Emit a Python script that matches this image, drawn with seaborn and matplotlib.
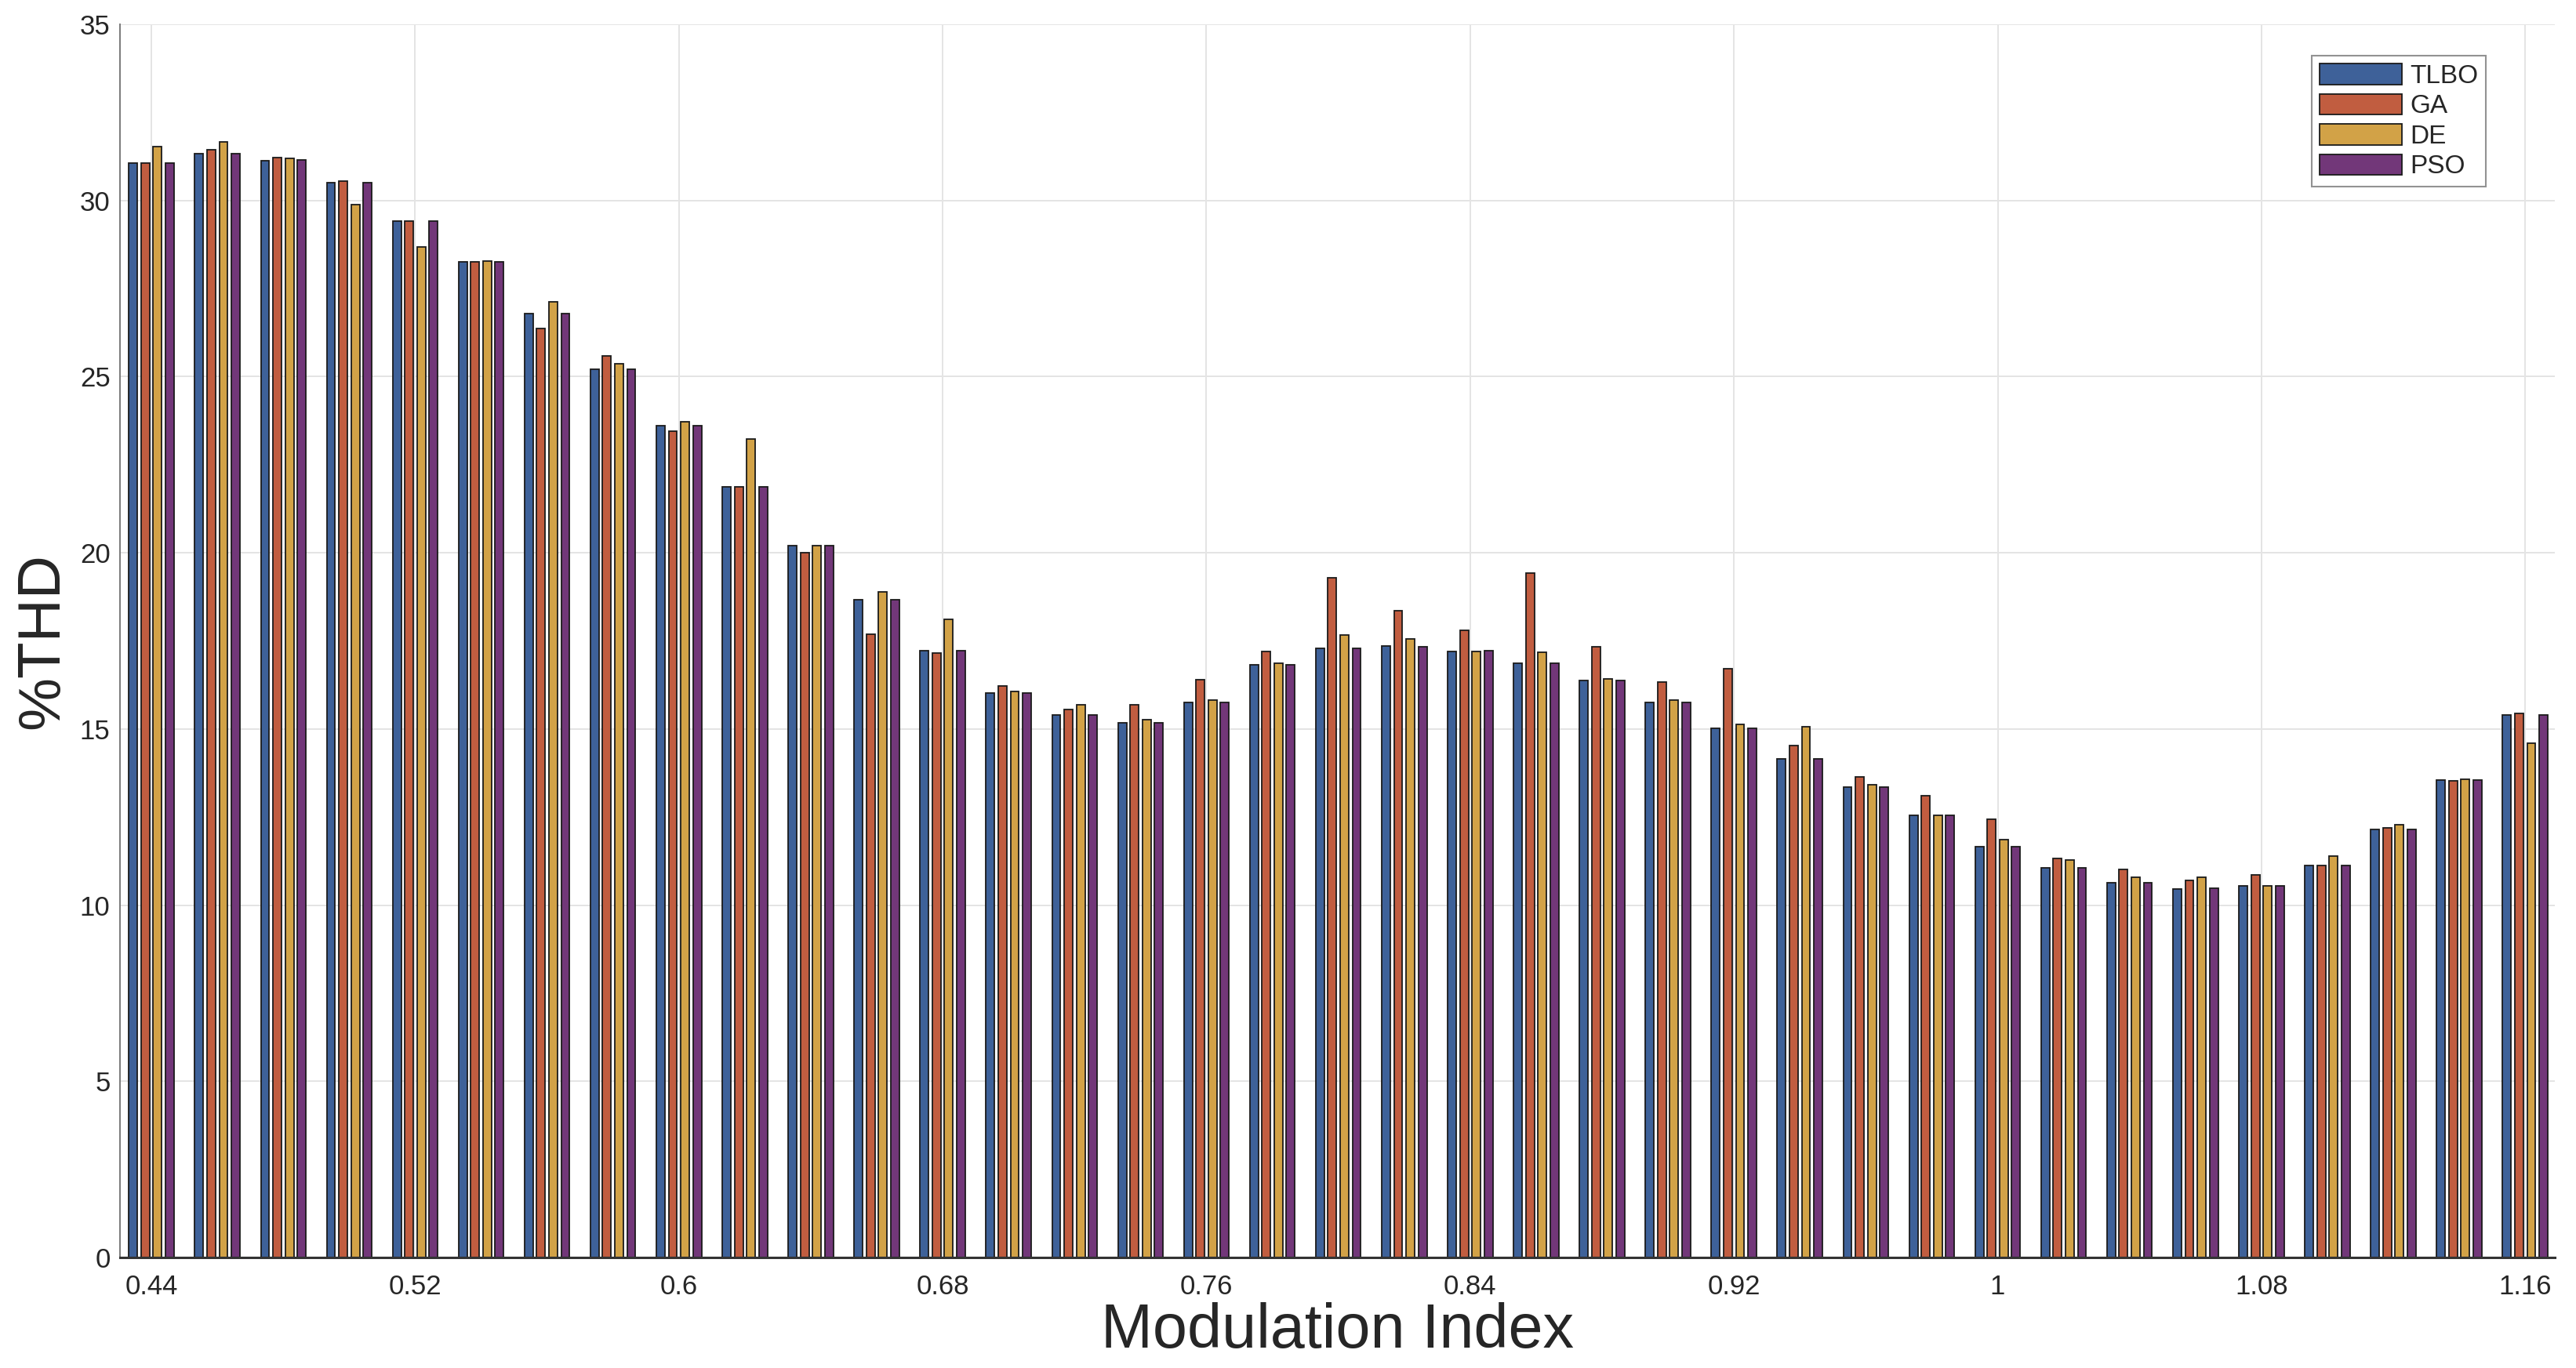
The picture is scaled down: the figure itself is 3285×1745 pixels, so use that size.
import matplotlib
matplotlib.use("Agg")
import matplotlib.pyplot as plt
import seaborn as sns
import pandas as pd


# ---------------------------------------------------------
# Data
# ---------------------------------------------------------

modulation_index = [
    0.44, 0.46, 0.48, 0.50, 0.52, 0.54, 0.56, 0.58, 0.60, 0.62,
    0.64, 0.66, 0.68, 0.70, 0.72, 0.74, 0.76, 0.78, 0.80, 0.82,
    0.84, 0.86, 0.88, 0.90, 0.92, 0.94, 0.96, 0.98, 1.00, 1.02,
    1.04, 1.06, 1.08, 1.10, 1.12, 1.14, 1.16,
]

thd_tlbo = [
    31.06, 31.34, 31.14, 30.51, 29.42, 28.25, 26.79, 25.21, 23.61, 21.87,
    20.21, 18.68, 17.22, 16.03, 15.39, 15.18, 15.76, 16.83, 17.28, 17.36,
    17.21, 16.87, 16.38, 15.75, 15.03, 14.15, 13.36, 12.54, 11.65, 11.06,
    10.64, 10.46, 10.54, 11.13, 12.15, 13.56, 15.39,
]

thd_ga = [
    31.06, 31.45, 31.22, 30.55, 29.42, 28.25, 26.37, 25.60, 23.46, 21.87,
    20.01, 17.70, 17.15, 16.23, 15.55, 15.69, 16.39, 17.19, 19.30, 18.35,
    17.79, 19.42, 17.34, 16.33, 16.71, 14.54, 13.65, 13.11, 12.44, 11.33,
    11.01, 10.70, 10.85, 11.13, 12.20, 13.53, 15.45,
]

thd_de = [
    31.54, 31.66, 31.20, 29.88, 28.69, 28.29, 27.12, 25.37, 23.72, 23.24,
    20.21, 18.89, 18.12, 16.06, 15.69, 15.27, 15.83, 16.87, 17.67, 17.55,
    17.21, 17.18, 16.42, 15.82, 15.12, 15.06, 13.41, 12.55, 11.87, 11.29,
    10.80, 10.79, 10.55, 11.40, 12.28, 13.57, 14.59,
]

thd_pso = [
    31.06, 31.34, 31.16, 30.51, 29.42, 28.25, 26.79, 25.21, 23.61, 21.87,
    20.21, 18.68, 17.22, 16.03, 15.39, 15.18, 15.76, 16.83, 17.28, 17.34,
    17.22, 16.87, 16.38, 15.75, 15.03, 14.15, 13.36, 12.55, 11.66, 11.06,
    10.64, 10.47, 10.54, 11.13, 12.15, 13.56, 15.39,
]

methods = ["TLBO", "GA", "DE", "PSO"]
colors = ["#2F5EA8", "#D6512A", "#E9A930", "#7A2C84"]

tick_labels = ["0.44", "0.52", "0.6", "0.68", "0.76",
               "0.84", "0.92", "1", "1.08", "1.16"]

y_ticks = [0, 5, 10, 15, 20, 25, 30, 35]


# ---------------------------------------------------------
# Long table for seaborn
# ---------------------------------------------------------

labels = [f"{m:g}" for m in modulation_index]

frames = []
for name, values in zip(methods, [thd_tlbo, thd_ga, thd_de, thd_pso]):
    frames.append(pd.DataFrame({"mi": labels, "thd": values, "method": name}))
df = pd.concat(frames, ignore_index=True)


# ---------------------------------------------------------
# Plot Style
# ---------------------------------------------------------

sns.set_style("white")
plt.rcParams["font.family"] = ["Liberation Sans", "DejaVu Sans"]

fig = plt.figure(figsize=(32.85, 17.45), dpi=100)
ax = fig.add_axes([0.0466, 0.0808, 0.9452, 0.9014])

sns.barplot(
    data=df,
    x="mi",
    y="thd",
    hue="method",
    hue_order=methods,
    order=labels,
    palette=colors,
    width=0.74,
    gap=0.3,
    edgecolor="#1a1a1a",
    linewidth=1.3,
    errorbar=None,
    ax=ax,
)

# axes
ax.set_xlim(-0.476, 36.45)
ax.set_ylim(0, 35)

tick_pos = [labels.index(t) for t in tick_labels]
ax.set_xticks(tick_pos)
ax.set_xticklabels(tick_labels)
ax.set_yticks(y_ticks)

ax.grid(True, color="#e4e4e4", linewidth=1.4)
ax.set_axisbelow(True)

ax.tick_params(axis="both", direction="in", length=21, width=1.3,
               color="#555555", labelsize=25, labelcolor="#262626")
ax.tick_params(axis="x", pad=15)
ax.tick_params(axis="y", pad=9)

for side in ["top", "right"]:
    ax.spines[side].set_visible(False)
ax.spines["left"].set_color("#7a7a7a")
ax.spines["left"].set_linewidth(1.4)
ax.spines["bottom"].set_color("#333333")
ax.spines["bottom"].set_linewidth(2.2)

ax.set_xlabel("Modulation Index", fontsize=57, labelpad=2)
ax.set_ylabel("%THD", fontsize=55, labelpad=8)

# legend
handles, names = ax.get_legend_handles_labels()
leg = ax.legend(
    handles,
    names,
    loc="upper right",
    bbox_to_anchor=(0.9717, 0.9746),
    borderaxespad=0,
    fontsize=24,
    handlelength=3.15,
    handleheight=0.85,
    handletextpad=0.3,
    labelspacing=0.2,
    borderpad=0.3,
    frameon=True,
    fancybox=False,
    edgecolor="#777777",
)
leg.get_frame().set_linewidth(1.5)

fig.savefig("out.png", dpi=100)
plt.close(fig)
